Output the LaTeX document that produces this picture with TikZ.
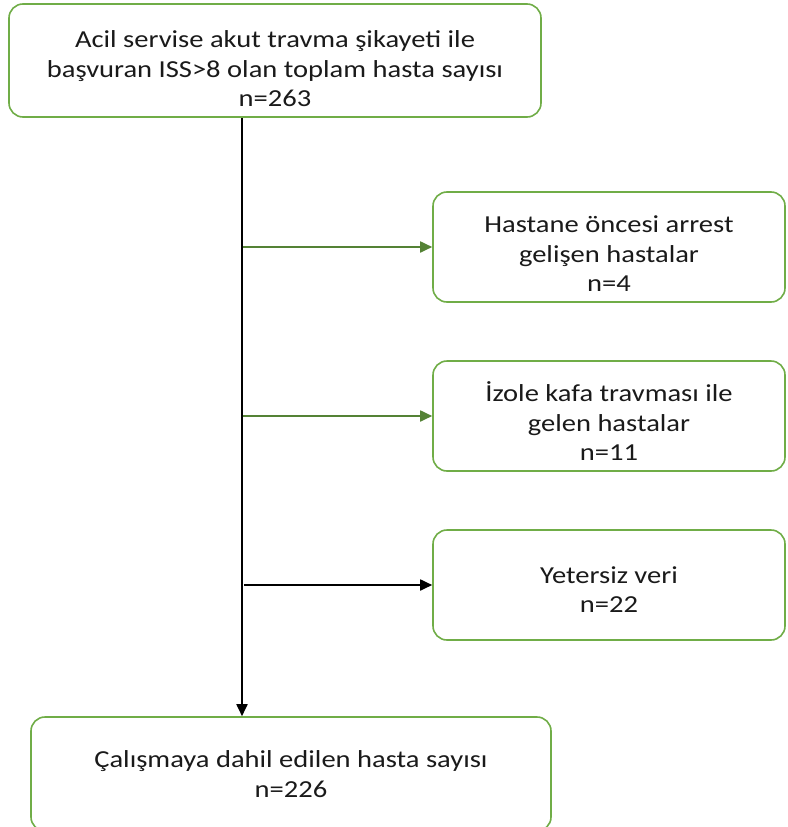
\documentclass[tikz,border=0pt]{standalone}
\usepackage{fontspec}
\setmainfont{Carlito}[FakeStretch=1.17]
\usetikzlibrary{positioning,arrows.meta}
\definecolor{green500}{HTML}{70AD47}
\definecolor{green700}{HTML}{548235}
\definecolor{ink}{HTML}{1A1A1A}
\newcommand{\topgap}[1]{\rule{0pt}{#1}}
\tikzset{
  box/.style ={draw=green500, line width=1.6pt, fill=white,
               rounded corners=14pt, align=center, inner sep=0pt,
               text=ink, font=\fontsize{24.4}{29.5}\selectfont},
  ar/.style  ={-{Triangle[length=12pt,width=11pt]}, draw=green700,
               line width=1.8pt},
  arb/.style ={-{Triangle[length=12pt,width=11pt]}, draw=black,
               line width=1.8pt}
}
\begin{document}
\begin{tikzpicture}[x=1pt, y=-1pt]
\useasboundingbox (0,0) rectangle (787,827);

\node[box, minimum width=532pt, minimum height=113pt] (total)
  at (275,60.5)
  {\topgap{34pt}Acil servise akut travma şikayeti ile\\
   başvuran ISS>8 olan toplam hasta sayısı\\ n=263};

\node[box, minimum width=352pt, minimum height=110pt] (arrest)
  at (609,247) {\topgap{30pt}Hastane öncesi arrest\\ gelişen hastalar\\ n=4};
\node[box, minimum width=352pt, minimum height=110pt] (head)
  at (609,416) {\topgap{30pt}İzole kafa travması ile\\ gelen hastalar\\ n=11};
\node[box, minimum width=352pt, minimum height=110pt] (data)
  at (609,585) {\topgap{26pt}Yetersiz veri\\ n=22};

\node[box, minimum width=520pt, minimum height=114pt] (incl) at (291,774)
  {Çalışmaya dahil edilen hasta sayısı\\ n=226};

\coordinate (spine) at (242,0);
\draw[arb] (total.south -| spine) -- (incl.north -| spine);
\foreach \n in {arrest, head}
  \draw[ar] ([xshift=1pt]spine |- \n.west) -- (\n.west);
\draw[arb] ([xshift=2pt]spine |- data.west) -- (data.west);
\end{tikzpicture}
\end{document}
